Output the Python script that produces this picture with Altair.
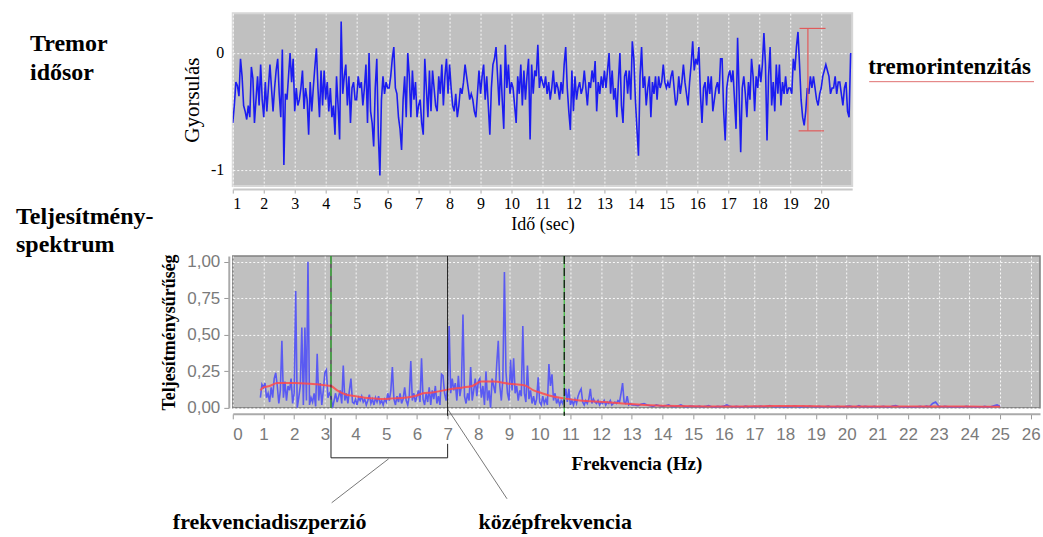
import altair as alt
import pandas as pd

# ---------------- Tremor time series (acceleration), sampled every 0.05 s from t = 1.0 s
acc_s01 = [-0.6,-0.45,-0.25,-0.28,-0.37,-0.05,-0.2,-0.45,-0.5,-0.57,-0.45,-0.55,-0.12,-0.22,-0.6,-0.4,-0.2,-0.45,-0.1,-0.4]
acc_s02 = [-0.55,-0.25,-0.5,-0.3,-0.1,-0.3,-0.5,-0.3,-0.15,-0.05,-0.35,-0.55,0.03,-0.96,-0.35,-0.4,-0.2,0.0,-0.25,-0.05]
acc_s03 = [-0.5,-0.3,-0.45,-0.4,-0.3,-0.15,-0.48,-0.3,-0.4,-0.7,-0.25,-0.5,-0.3,-0.12,0.04,-0.3,-0.55,-0.15,-0.45,-0.15]
acc_s04 = [-0.4,-0.25,-0.5,-0.3,-0.55,-0.45,-0.7,-0.2,-0.45,-0.74,0.27,-0.35,-0.2,-0.1,-0.45,-0.2,-0.6,-0.3,-0.25,-0.4]
acc_s05 = [-0.4,-0.2,-0.3,-0.25,-0.45,-0.3,-0.1,-0.6,0.0,-0.5,-0.6,-0.8,-0.3,-0.05,-0.7,-1.05,-0.4,-0.2,-0.35,-0.25]
acc_s06 = [-0.3,-0.3,-0.2,-0.05,0.05,-0.3,-0.35,-0.55,-0.65,-0.83,-0.4,-0.2,-0.55,0.0,-0.2,-0.55,-0.15,-0.4,-0.25,-0.55]
acc_s07 = [-0.45,-0.4,-0.6,-0.7,-0.05,-0.3,-0.55,-0.15,-0.5,-0.15,-0.3,-0.45,-0.5,-0.2,-0.35,-0.1,-0.45,-0.2,-0.05,-0.35]
acc_s08 = [-0.1,-0.3,-0.45,-0.5,-0.35,-0.55,-0.45,-0.3,-0.35,-0.25,-0.1,-0.2,-0.3,-0.4,-0.35,-0.4,-0.5,-0.55,-0.35,-0.15]
acc_s09 = [-0.35,-0.2,-0.1,-0.4,-0.2,-0.45,-0.7,-0.3,-0.1,-0.05,0.05,-0.2,-0.45,-0.1,-0.4,-0.65,0.07,-0.3,-0.1,-0.35]
acc_s10 = [-0.25,-0.3,-0.45,-0.6,-0.2,-0.35,-0.1,-0.45,-0.15,-0.4,-0.2,-0.05,-0.74,-0.1,-0.35,-0.15,-0.2,0.07,-0.3,-0.2]
acc_s11 = [-0.25,-0.3,-0.2,-0.35,-0.25,-0.4,-0.3,-0.15,-0.35,-0.25,-0.3,-0.4,-0.25,-0.35,-0.1,0.05,-0.3,-0.5,-0.66,-0.15]
acc_s12 = [-0.5,-0.2,-0.4,-0.3,-0.25,-0.35,-0.3,-0.15,-0.3,-0.45,-0.25,-0.3,-0.15,-0.25,-0.07,-0.5,-0.25,-0.35,-0.2,-0.3]
acc_s13 = [-0.15,-0.3,-0.15,0.0,-0.35,-0.15,-0.4,-0.3,-0.55,-0.25,0.0,-0.45,-0.6,-0.2,-0.15,-0.35,-0.15,-0.4,0.1,-0.05]
acc_s14 = [-0.4,-0.65,-0.88,-0.2,0.05,-0.3,-0.2,-0.45,-0.3,-0.2,-0.55,-0.25,-0.35,-0.2,-0.4,-0.2,-0.3,-0.25,-0.1,-0.25]
acc_s15 = [-0.3,-0.25,-0.3,-0.2,-0.15,-0.3,-0.45,-0.4,-0.2,-0.35,-0.25,-0.1,-0.25,-0.35,-0.45,-0.25,-0.1,0.1,-0.15,-0.05]
acc_s16 = [-0.1,0.05,-0.35,-0.6,-0.3,-0.25,-0.45,-0.2,-0.35,-0.2,-0.5,-0.4,-0.3,-0.25,-0.35,-0.05,-0.05,-0.5,-0.75,-0.3]
acc_s17 = [-0.2,-0.15,-0.25,-0.15,-0.4,-0.65,0.13,-0.35,-0.85,-0.3,-0.2,-0.35,-0.55,-0.25,-0.4,-0.05,-0.2,-0.5,-0.2,-0.3]
acc_s18 = [-0.1,-0.25,-0.1,0.17,-0.1,-0.75,-0.2,0.05,-0.45,-0.25,-0.5,-0.1,-0.35,-0.1,-0.45,-0.25,-0.35,-0.2,-0.35,-0.3]
acc_s19 = [-0.3,-0.35,-0.05,-0.15,0.05,0.18,-0.1,-0.4,-0.55,-0.62,-0.5,-0.3,-0.35,-0.2,-0.3,-0.2,-0.3,-0.4,-0.45,-0.35]
acc_s20 = [-0.3,-0.2,-0.15,-0.1,-0.15,-0.2,-0.35,-0.3,-0.3,-0.2,-0.35,-0.25,-0.25,-0.35,-0.45,-0.3,-0.25,-0.5,-0.55,0.0]
T0, DT = 1.0, 0.05

# tremor intensity bracket (peak-to-peak marker)
INT_T, INT_TOP, INT_BOTTOM = 19.57, 0.21, -0.667
INT_CAP_TOP = (19.3, 20.14)
INT_CAP_BOTTOM = (19.27, 20.09)

# ---------------- Power spectrum
# 0.90 .. 13.00 Hz, step 0.05
spec_low = [
    0.07,0.16,0.14,0.17,0.07,0.1,0.04,0.14,0.07,0.2,
    0.24,0.15,0.03,0.12,0.46,0.07,0.18,0.05,0.15,0.12,
    0.2,0.03,0.1,0.8,0.0,0.07,0.15,0.55,0.02,0.55,
    0.05,1.0,0.02,0.07,0.04,0.1,0.01,0.37,0.05,0.17,
    0.02,0.12,0.24,0.26,0.07,0.1,0.08,0.0,
    0.05,0.1,0.04,0.08,0.12,0.03,0.29,0.05,0.1,0.03,0.12,0.2,0.04,0.03,0.06,
    0.02,0.07,0.05,0.08,0.04,0.06,0.02,0.05,0.09,0.03,0.06,0.02,0.07,0.04,0.08,0.03,0.05,0.02,0.06,0.04,
    0.1,0.05,0.12,0.28,0.06,0.02,0.08,0.04,0.1,0.03,0.06,0.14,0.05,0.02,0.08,0.32,0.05,0.1,0.04,0.08,
    0.12,0.04,0.34,0.06,0.02,0.1,0.04,0.14,0.02,0.12,0.06,0.15,0.03,0.08,0.02,0.23,0.22,0.1,0.05,0.15,
    0.56,0.1,0.2,0.12,0.17,0.05,0.22,0.08,0.15,0.64,0.08,0.03,0.1,0.05,0.28,0.05,0.12,0.2,0.08,0.18,
    0.2,0.07,0.15,0.02,0.25,0.05,0.12,0.0,0.2,0.15,0.1,0.3,0.46,0.15,0.05,0.2,0.93,0.25,0.1,0.05,
    0.33,0.12,0.34,0.1,0.15,0.05,0.12,0.08,0.56,0.1,0.04,0.29,0.06,0.12,0.03,0.08,0.02,0.06,0.21,0.04,
    0.02,0.08,0.03,0.06,0.02,0.3,0.15,0.23,0.05,0.1,0.03,0.06,0.02,0.05,0.03,0.07,0.13,0.04,0.13,0.02,
    0.05,0.02,0.06,0.03,0.08,0.11,0.13,0.04,0.02,0.05,0.03,0.06,0.13,0.03,0.06,0.04,0.03,0.05,0.02,0.04,
    0.03,0.05,0.02,0.04,0.03,0.05,0.02,0.03,0.04,0.03,0.05,0.04,0.1,0.17,0.04,0.03,0.08,0.02,0.03,0.02,
]
F_LOW0, F_LOW_STEP = 0.9, 0.05
# 13.1 .. 25.0 Hz, step 0.1
spec_tail = [
    0.02,0.015,0.025,0.03,0.02,0.015,0.01,0.02,0.015,0.01,
    0.015,0.02,0.01,0.008,0.012,0.02,0.01,0.006,0.012,0.01,
    0.008,0.012,0.006,0.01,0.015,0.008,0.005,0.01,0.008,0.012,
    0.02,0.01,0.006,0.01,0.008,0.005,0.012,0.008,0.006,0.01,
    0.008,0.012,0.006,0.01,0.015,0.008,0.006,0.01,0.008,0.005,
    0.01,0.006,0.012,0.008,0.005,0.01,0.006,0.012,0.008,0.006,
    0.01,0.006,0.008,0.012,0.006,0.005,0.01,0.008,0.006,0.01,
    0.012,0.008,0.006,0.015,0.006,0.01,0.008,0.005,0.01,0.006,
    0.008,0.01,0.006,0.005,0.012,0.015,0.008,0.006,0.005,0.008,
    0.006,0.005,0.008,0.01,0.006,0.012,0.008,0.03,0.04,0.012,
    0.006,0.01,0.008,0.005,0.006,0.008,0.005,0.006,0.01,0.008,
    0.006,0.005,0.008,0.006,0.01,0.005,0.008,0.015,0.02,0.01,
]
F_TAIL0, F_TAIL_STEP = 13.1, 0.1

# smoothed spectrum (red)
smooth_f = [0.9,1.0,1.2,1.45,1.7,2.0,2.5,3.0,3.2,3.4,3.7,4.0,4.3,4.6,4.9,5.2,5.6,6.0,6.2,6.5,
            7.0,7.5,7.8,8.1,8.5,9.0,9.5,9.8,10.0,10.3,10.8,11.3,12.1,12.7,13.6,14.5,15.5,16.5,
            17.5,18.5,19.5,20.5,21.5,22.5,23.5,24.5,25.0]
smooth_p = [0.12,0.14,0.15,0.17,0.17,0.17,0.165,0.155,0.15,0.12,0.09,0.08,0.07,0.065,0.06,0.065,
            0.07,0.085,0.1,0.105,0.125,0.14,0.15,0.18,0.18,0.165,0.155,0.12,0.105,0.085,0.065,0.05,
            0.04,0.03,0.018,0.012,0.01,0.01,0.012,0.012,0.01,0.01,0.01,0.009,0.01,0.008,0.008]

DISP_LOW, CENTER_F, DISP_HIGH = 3.2, 7.0, 10.8

# axis tick values
time_ticks = list(range(1, 21))
acc_ticks = [0, -1]
freq_ticks = list(range(0, 27))
psd_ticks = [0, 0.25, 0.5, 0.75, 1.0]

# ---------------- tables
acc = (acc_s01 + acc_s02 + acc_s03 + acc_s04 + acc_s05 + acc_s06 + acc_s07 + acc_s08 + acc_s09 + acc_s10 +
       acc_s11 + acc_s12 + acc_s13 + acc_s14 + acc_s15 + acc_s16 + acc_s17 + acc_s18 + acc_s19 + acc_s20)
ts = pd.DataFrame({"t": [round(T0 + DT * i, 3) for i in range(len(acc))], "a": acc})

freq = [round(F_LOW0 + F_LOW_STEP * i, 3) for i in range(len(spec_low))] + \
       [round(F_TAIL0 + F_TAIL_STEP * i, 3) for i in range(len(spec_tail))]
spec = pd.DataFrame({"f": freq, "p": spec_low + spec_tail})
smooth = pd.DataFrame({"f": smooth_f, "p": smooth_p})

SERIF = "'Liberation Serif', 'DejaVu Serif', 'Times New Roman', serif"
SANS = "'Liberation Sans', 'DejaVu Sans', sans-serif"
one = pd.DataFrame({"k": [0]})

# ---------------- top panel
TW, TH = 620, 173
xt = alt.Scale(domain=[1, 21], nice=False, zero=False)
yt = alt.Scale(domain=[-1.14, 0.34], nice=False, zero=False)

ts_line = alt.Chart(ts).mark_line(color="#1c1cf0", strokeWidth=1.6, clip=True).encode(
    x=alt.X("t:Q", scale=xt, axis=alt.Axis(
        values=time_ticks, tickCount=40, title="Idő (sec)", format="d", labelOverlap=False,
        grid=True, gridColor="white", gridDash=[2, 2], gridOpacity=0.9,
        labelFont=SERIF, labelFontSize=16, labelColor="black", labelPadding=2,
        tickColor="#aaaaaa", tickSize=4, domainColor="#c8c8c8", domainWidth=2, offset=3,
        titleFont=SERIF, titleFontSize=18, titleFontWeight="normal", titleColor="black", titlePadding=4)),
    y=alt.Y("a:Q", scale=yt, axis=alt.Axis(
        values=acc_ticks, tickCount=10, title="Gyorsulás", labelOverlap=False,
        labelExpr="datum.value < 0 ? '-' + abs(datum.value) : '' + datum.value",
        grid=True, gridColor="white", gridDash=[2, 2], gridOpacity=0.9,
        labelFont=SERIF, labelFontSize=16, labelColor="black", labelPadding=9,
        ticks=False, domain=False,
        titleFont=SERIF, titleFontSize=21, titleFontWeight="normal", titleColor="black", titlePadding=8)),
)

int_color = "#e05a5a"
int_v = alt.Chart(one).mark_rule(color=int_color, strokeWidth=1.2).encode(
    x=alt.XDatum(INT_T), y=alt.YDatum(INT_TOP), y2=alt.Y2Datum(INT_BOTTOM))
int_top = alt.Chart(one).mark_rule(color=int_color, strokeWidth=1.2).encode(
    x=alt.XDatum(INT_CAP_TOP[0]), x2=alt.X2Datum(INT_CAP_TOP[1]), y=alt.YDatum(INT_TOP))
int_bot = alt.Chart(one).mark_rule(color=int_color, strokeWidth=1.2).encode(
    x=alt.XDatum(INT_CAP_BOTTOM[0]), x2=alt.X2Datum(INT_CAP_BOTTOM[1]), y=alt.YDatum(INT_BOTTOM))


def label(text, x, y, size, weight="bold", font=SERIF, align="left"):
    return alt.Chart(one).mark_text(text=text, font=font, fontSize=size, fontWeight=weight,
                                    align=align, baseline="alphabetic", color="black").encode(
        x=alt.value(x), y=alt.value(y))


top_texts = [
    label("Tremor", -203, 38, 24),
    label("idősor", -203, 67, 24),
    label("tremorintenzitás", 636, 61, 23),
]
underline = alt.Chart(one).mark_rule(color="#e07070", strokeWidth=1).encode(
    x=alt.value(637), x2=alt.value(802), y=alt.value(68.5))

top = alt.layer(ts_line, int_v, int_top, int_bot, underline, *top_texts).properties(
    width=TW, height=TH,
    view=alt.ViewBackground(fill="#c0c0c0", stroke="#d6d6d6", strokeWidth=2))

# ---------------- bottom panel
BW, BH = 808, 152
xs = alt.Scale(domain=[0, 26.3], nice=False, zero=False)
ys = alt.Scale(domain=[0, 1.04], nice=False, zero=False)

spec_line = alt.Chart(spec).mark_line(color="#5a5af2", strokeWidth=1.6, clip=True).encode(
    x=alt.X("f:Q", scale=xs, axis=alt.Axis(
        values=freq_ticks, tickCount=60, title="Frekvencia (Hz)", format="d", labelOverlap=False,
        grid=True, gridColor="white", gridDash=[2, 2], gridOpacity=0.9,
        labelFont=SANS, labelFontSize=17, labelColor="#7a7a7a", labelPadding=8,
        tickColor="#999999", tickSize=5, domainColor="#aaaaaa", domainWidth=2, offset=6,
        titleFont=SERIF, titleFontSize=19, titleFontWeight="bold", titleColor="black", titlePadding=12)),
    y=alt.Y("p:Q", scale=ys, axis=alt.Axis(
        values=psd_ticks, tickCount=20, title="Teljesítménysűrűség", labelOverlap=False,
        labelExpr="replace(format(datum.value, '.2f'), '.', ',')",
        grid=True, gridColor="white", gridDash=[2, 2], gridOpacity=0.9,
        labelFont=SANS, labelFontSize=17, labelColor="#7a7a7a", labelPadding=4,
        tickColor="#999999", tickSize=5, domainColor="#aaaaaa", domainWidth=2, offset=4,
        titleFont=SERIF, titleFontSize=18, titleFontWeight="bold", titleColor="black", titlePadding=8)),
)
smooth_line = alt.Chart(smooth).mark_line(color="#ff4a4a", strokeWidth=2, opacity=0.85,
                                          interpolate="monotone", clip=True).encode(
    x=alt.X("f:Q"), y=alt.Y("p:Q"))

bline = alt.Chart(one).mark_rule(color="#111111", strokeWidth=1)
gline = alt.Chart(one).mark_rule(color="#3cbf3c", strokeWidth=1.2, strokeDash=[8, 4])
v_low_k = bline.encode(x=alt.XDatum(DISP_LOW), y=alt.value(0), y2=alt.value(BH))
v_low_g = gline.encode(x=alt.XDatum(DISP_LOW), y=alt.value(0), y2=alt.value(BH))
v_mid = bline.encode(x=alt.XDatum(CENTER_F), y=alt.value(0), y2=alt.value(160))
v_high_g = alt.Chart(one).mark_rule(color="#3cbf3c", strokeWidth=1.2).encode(
    x=alt.XDatum(DISP_HIGH), y=alt.value(0), y2=alt.value(160))
v_high_k = alt.Chart(one).mark_rule(color="#111111", strokeWidth=1.2, strokeDash=[8, 4]).encode(
    x=alt.XDatum(DISP_HIGH), y=alt.value(0), y2=alt.value(160))

brk = alt.Chart(one).mark_rule(color="#222222", strokeWidth=1)
br_left = brk.encode(x=alt.XDatum(DISP_LOW), y=alt.value(162), y2=alt.value(202))
br_right = brk.encode(x=alt.XDatum(CENTER_F), y=alt.value(188), y2=alt.value(202))
br_h = brk.encode(x=alt.XDatum(DISP_LOW), x2=alt.X2Datum(CENTER_F), y=alt.value(202))

lead = alt.Chart(one).mark_rule(color="#555555", strokeWidth=0.8)
lead_disp = lead.encode(x=alt.value(156), x2=alt.value(99), y=alt.value(203), y2=alt.value(247))
lead_mid = lead.encode(x=alt.value(215), x2=alt.value(274.5), y=alt.value(153), y2=alt.value(243))

bottom_texts = [
    label("Teljesítmény-", -217, -32, 24),
    label("spektrum", -217, -4, 24),
    label("frekvenciadiszperzió", -60, 273, 22),
    label("középfrekvencia", 246, 273, 22),
]

bottom = alt.layer(spec_line, smooth_line, v_low_k, v_low_g, v_mid, v_high_g, v_high_k,
                   br_left, br_right, br_h, lead_disp, lead_mid, *bottom_texts).properties(
    width=BW, height=BH,
    view=alt.ViewBackground(fill="#c0c0c0", stroke="#808080", strokeWidth=1.5))

chart = alt.vconcat(top, bottom, spacing=70, bounds="flush").properties(
    padding={"left": 15, "top": 12, "right": 2, "bottom": 2},
    background="white",
)

chart.save("out.html", embed_options={"renderer": "svg", "actions": False})
